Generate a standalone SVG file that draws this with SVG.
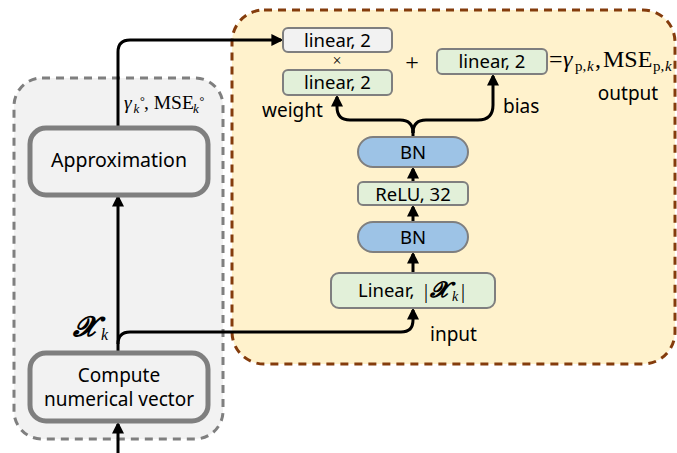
<svg xmlns="http://www.w3.org/2000/svg" width="677" height="453" viewBox="0 0 677 453">
<style>
.t{font-family:"Noto Sans","Open Sans","DejaVu Sans",sans-serif;fill:#000}
.m{font-family:"Liberation Serif","DejaVu Serif",serif;fill:#000}
.mi{font-family:"Liberation Serif","DejaVu Serif",serif;font-style:italic;fill:#000}
.big{fill:#f2f2f2;stroke:#7f7f7f;stroke-width:5}
.sm{stroke:#7f7f7f;stroke-width:2}
.g{fill:#e2f0d9}
.w{fill:#f2f2f2}
.b{fill:#9dc3e6}
.c{fill:none;stroke:#000;stroke-width:3;marker-end:url(#ah)}
.cn{fill:none;stroke:#000;stroke-width:3}
</style>
<defs>
<marker id="ah" markerWidth="4" markerHeight="4" refX="3.2" refY="2" orient="auto" markerUnits="strokeWidth">
<path d="M0,0 L4,2 L0,4 Z" fill="#000"/>
</marker>
</defs>
<g id="regions">
<rect x="14" y="78" width="209" height="361" rx="28" fill="#f2f2f2" stroke="#7f7f7f" stroke-width="3" stroke-dasharray="8,6"/>
<rect x="232" y="10" width="443" height="354" rx="32" fill="#fff2cc" stroke="#843c0c" stroke-width="3" stroke-dasharray="8,6"/>
</g>
<g id="connectors">
<path class="c" d="M118,127 V52 Q118,40 130,40 H281"/>
<path class="c" d="M118,352 V197"/>
<path class="c" d="M118,344 Q118,332 130,332 H401 Q413,332 413,320 V310"/>
<path class="c" d="M118,453 V424"/>
<path class="c" d="M413,273 V254"/>
<path class="c" d="M413,222 V207"/>
<path class="c" d="M413,182 V169"/>
<path class="cn" d="M413,137 V130"/>
<path class="c" d="M413,133 Q413,120 400,120 H350 Q337,120 337,107 V97"/>
<path class="c" d="M413,133 Q413,120 426,120 H478 Q493,120 493,105 V76"/>
</g>
<g id="approximation">
<rect class="big" x="30" y="128" width="178" height="67" rx="16"/>
<text class="t" x="119" y="167" font-size="19.5" text-anchor="middle">Approximation</text>
</g>
<g id="compute">
<rect class="big" x="30" y="353" width="178" height="68" rx="16"/>
<text class="t" x="119" y="382" font-size="19" text-anchor="middle">Compute</text>
<text class="t" x="119" y="406" font-size="19" text-anchor="middle">numerical vector</text>
</g>
<g id="linear-top">
<rect class="sm w" x="283" y="28" width="109" height="24" rx="5"/>
<text class="t" x="337.5" y="46.5" font-size="18.5" text-anchor="middle">linear, 2</text>
</g>
<g id="linear-weight">
<rect class="sm g" x="283" y="70" width="109" height="25" rx="5"/>
<text class="t" x="337.5" y="89" font-size="18.5" text-anchor="middle">linear, 2</text>
</g>
<g id="linear-bias">
<rect class="sm g" x="437" y="49" width="110" height="25" rx="5"/>
<text class="t" x="492" y="68" font-size="18.5" text-anchor="middle">linear, 2</text>
</g>
<g id="bn1">
<rect class="sm b" x="358" y="137" width="110" height="30" rx="15"/>
<text class="t" x="413" y="158.5" font-size="18.5" text-anchor="middle">BN</text>
</g>
<g id="relu">
<rect class="sm g" x="358" y="182" width="110" height="23" rx="5"/>
<text class="t" x="413" y="200.5" font-size="18.5" text-anchor="middle">ReLU, 32</text>
</g>
<g id="bn2">
<rect class="sm b" x="358" y="222" width="110" height="30" rx="15"/>
<text class="t" x="413" y="243.5" font-size="18.5" text-anchor="middle">BN</text>
</g>
<g id="linear-input">
<rect class="sm g" x="331" y="273" width="164" height="35" rx="8"/>
<text class="t" x="358" y="297" font-size="18.5">Linear,</text>
<text class="m" x="424" y="298" font-size="20">|</text>
<text class="m" x="430" y="297" font-size="22" font-weight="bold" font-style="italic">𝓧</text>
<text class="mi" x="452" y="301" font-size="14">k</text>
<text class="m" x="461" y="298" font-size="20">|</text>
</g>
<g id="labels">
<text class="mi" x="124" y="109" font-size="19.5">γ</text>
<text class="mi" x="133.5" y="113" font-size="13">k</text>
<text class="m" x="140" y="105" font-size="12">°</text>
<text class="m" x="144" y="109" font-size="19.5">, MSE</text>
<text class="mi" x="193" y="113" font-size="13">k</text>
<text class="m" x="199.5" y="105" font-size="12">°</text>
<text class="t" x="262" y="117" font-size="19">weight</text>
<text class="t" x="503" y="113" font-size="19">bias</text>
<text class="t" x="628" y="100" font-size="19" text-anchor="middle">output</text>
<text class="t" x="430" y="341" font-size="19">input</text>
<text class="m" x="412" y="70" font-size="24" text-anchor="middle" fill="#555">+</text>
<text class="m" x="337" y="66" font-size="16" text-anchor="middle" fill="#7f7f7f">×</text>
<text class="m" x="549" y="67" font-size="24">=</text>
<text class="mi" x="563" y="67" font-size="24">γ</text>
<text class="m" x="575" y="71" font-size="15">p,</text>
<text class="mi" x="587" y="71" font-size="15">k</text>
<text class="m" x="595" y="67" font-size="24">,</text>
<text class="m" x="603" y="67" font-size="24">MSE</text>
<text class="m" x="653" y="71" font-size="15">p,</text>
<text class="mi" x="665" y="71" font-size="15">k</text>
<text class="m" x="73" y="336" font-size="28" font-weight="bold" font-style="italic">𝓧</text>
<text class="mi" x="101" y="340" font-size="16">k</text>
</g>
</svg>
